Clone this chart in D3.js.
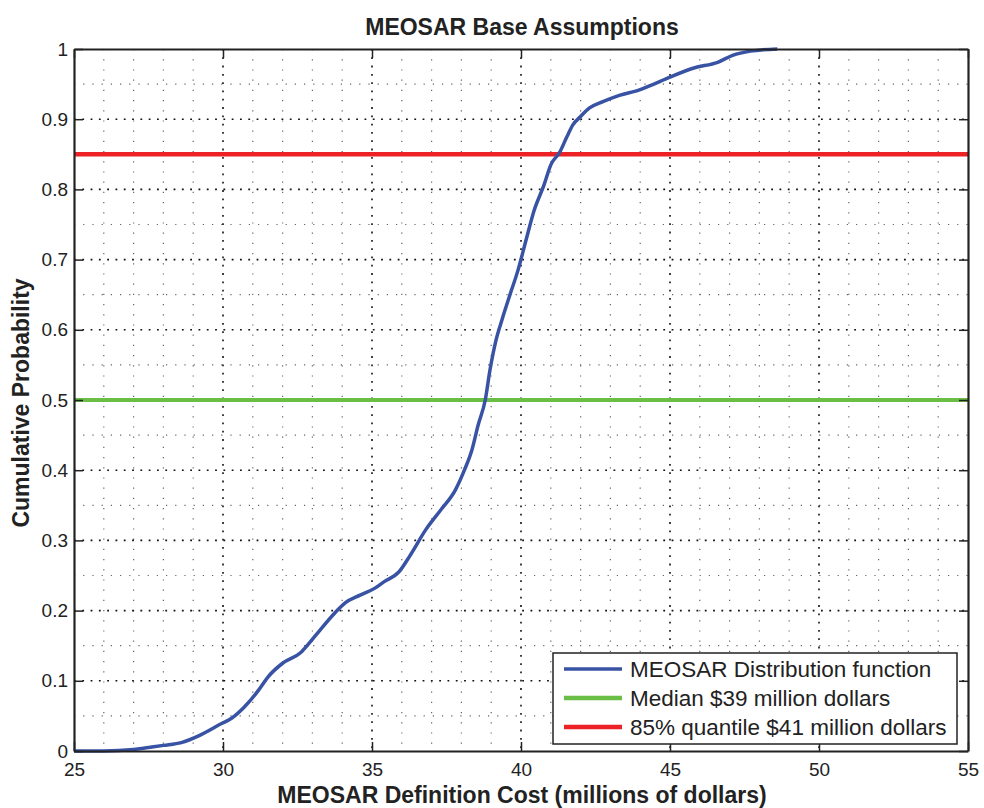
<!DOCTYPE html>
<html><head><meta charset="utf-8">
<script src="https://cdn.jsdelivr.net/npm/d3@7"></script>
<style>body{margin:0;background:#fff}svg{display:block;font-family:"Liberation Sans",Arial,sans-serif}</style>
</head><body><svg id="c" width="984" height="808"></svg>
<script>
const costX = [25,26,27,27.5,28,28.6,29.2,29.9,30.3,30.7,31.2,31.5,32.0,32.6,32.9,33.25,33.76,34.1,34.6,35.1,35.4,35.9,36.3,36.8,37.3,37.8,38.1,38.36,38.56,38.8,38.96,39.16,39.36,39.63,39.9,40.17,40.44,40.77,41.0,41.3,41.54,41.74,41.98,42.3,42.75,43.3,44.0,44.4,45.0,45.8,46.6,47.1,47.7,48.6];
const cumProb = [0,0,0.002,0.005,0.008,0.012,0.022,0.038,0.047,0.062,0.087,0.105,0.125,0.14,0.154,0.172,0.197,0.211,0.222,0.232,0.241,0.255,0.28,0.315,0.343,0.372,0.40,0.43,0.464,0.50,0.543,0.585,0.614,0.65,0.685,0.728,0.77,0.806,0.835,0.853,0.875,0.892,0.903,0.916,0.925,0.934,0.942,0.949,0.96,0.973,0.981,0.991,0.997,1.0];
const medianP = 0.5, quantileP = 0.85;
const xTicks = [25,30,35,40,45,50,55];
const yTicks = [0,0.1,0.2,0.3,0.4,0.5,0.6,0.7,0.8,0.9,1];
const legendLabels = ["MEOSAR Distribution function","Median $39 million dollars","85% quantile $41 million dollars"];
const colors = ["#3953a4","#6abd45","#ec2227"];

const svg = d3.select("#c");
const L=74,R=968,T=49,B=751;
const x = d3.scaleLinear().domain([25,55]).range([L,R]);
const y = d3.scaleLinear().domain([0,1]).range([B,T]);

// minor grid
const g = svg.append("g");
d3.range(26,55,1).filter(v=>v%5!==0).forEach(v=>{
  g.append("line").attr("x1",x(v)).attr("x2",x(v)).attr("y1",T).attr("y2",B)
   .attr("stroke","#666").attr("stroke-width",1.2).attr("stroke-dasharray","1.2,9");
});
d3.range(0.05,1,0.1).forEach(v=>{
  g.append("line").attr("x1",L).attr("x2",R).attr("y1",y(v)).attr("y2",y(v))
   .attr("stroke","#666").attr("stroke-width",1.2).attr("stroke-dasharray","1.2,8");
});
// major grid
xTicks.slice(1,-1).forEach(v=>{
  g.append("line").attr("x1",x(v)).attr("x2",x(v)).attr("y1",T).attr("y2",B)
   .attr("stroke","#111").attr("stroke-width",1.6).attr("stroke-dasharray","1.8,6.5");
});
yTicks.slice(1,-1).forEach(v=>{
  g.append("line").attr("x1",L).attr("x2",R).attr("y1",y(v)).attr("y2",y(v))
   .attr("stroke","#111").attr("stroke-width",1.6).attr("stroke-dasharray","1.8,6.5");
});

// reference lines
svg.append("line").attr("x1",L).attr("x2",R).attr("y1",y(medianP)).attr("y2",y(medianP))
  .attr("stroke",colors[1]).attr("stroke-width",4);
svg.append("line").attr("x1",L).attr("x2",R).attr("y1",y(quantileP)).attr("y2",y(quantileP))
  .attr("stroke",colors[2]).attr("stroke-width",4.5);

// curve
const data = costX.map((v,i)=>[v,cumProb[i]]);
svg.append("path").datum(data)
  .attr("d",d3.line().x(d=>x(d[0])).y(d=>y(d[1])).curve(d3.curveMonotoneX))
  .attr("fill","none").attr("stroke",colors[0]).attr("stroke-width",3.5).attr("stroke-linejoin","round");

// axes (inward ticks, MATLAB style)
const ax = svg.append("g").attr("transform",`translate(0,${B})`)
  .call(d3.axisBottom(x).tickValues(xTicks).tickSizeInner(-9).tickSizeOuter(0).tickPadding(12).tickFormat(d3.format("d")));
const axT = svg.append("g").attr("transform",`translate(0,${T})`)
  .call(d3.axisTop(x).tickValues(xTicks).tickSizeInner(-9).tickSizeOuter(0).tickFormat(""));
const ay = svg.append("g").attr("transform",`translate(${L},0)`)
  .call(d3.axisLeft(y).tickValues(yTicks).tickSizeInner(-9).tickSizeOuter(0).tickPadding(6).tickFormat(d=>d3.format("")(+d.toFixed(1))));
const ayR = svg.append("g").attr("transform",`translate(${R},0)`)
  .call(d3.axisRight(y).tickValues(yTicks).tickSizeInner(-9).tickSizeOuter(0).tickFormat(""));
[ax,axT,ay,ayR].forEach(a=>{
  a.selectAll("path").attr("stroke","#222").attr("stroke-width",2.2);
  a.selectAll(".tick line").attr("stroke","#222").attr("stroke-width",1.5);
  a.selectAll("text").attr("font-size",19).attr("fill","#222").attr("font-family","Liberation Sans, Arial, sans-serif");
});

// title & labels
svg.append("text").attr("x",522).attr("y",35).attr("text-anchor","middle")
  .attr("font-size",23).attr("font-weight","bold").attr("fill","#222").text("MEOSAR Base Assumptions");
svg.append("text").attr("x",522).attr("y",803).attr("text-anchor","middle")
  .attr("font-size",23).attr("font-weight","bold").attr("fill","#222").text("MEOSAR Definition Cost (millions of dollars)");
svg.append("text").attr("transform","translate(29,403) rotate(-90)").attr("text-anchor","middle")
  .attr("font-size",23).attr("font-weight","bold").attr("fill","#222").text("Cumulative Probability");

// legend
const lg = svg.append("g");
lg.append("rect").attr("x",553).attr("y",653).attr("width",404).attr("height",91)
  .attr("fill","#fff").attr("stroke","#222").attr("stroke-width",1.5);
legendLabels.forEach((t,i)=>{
  const yy = 669 + i*29;
  lg.append("line").attr("x1",564).attr("x2",622).attr("y1",yy).attr("y2",yy)
    .attr("stroke",colors[i]).attr("stroke-width",i===0?3.5:4.5);
  lg.append("text").attr("x",630).attr("y",yy+8).attr("font-size",22.5).attr("fill","#222").text(t);
});
</script></body></html>
